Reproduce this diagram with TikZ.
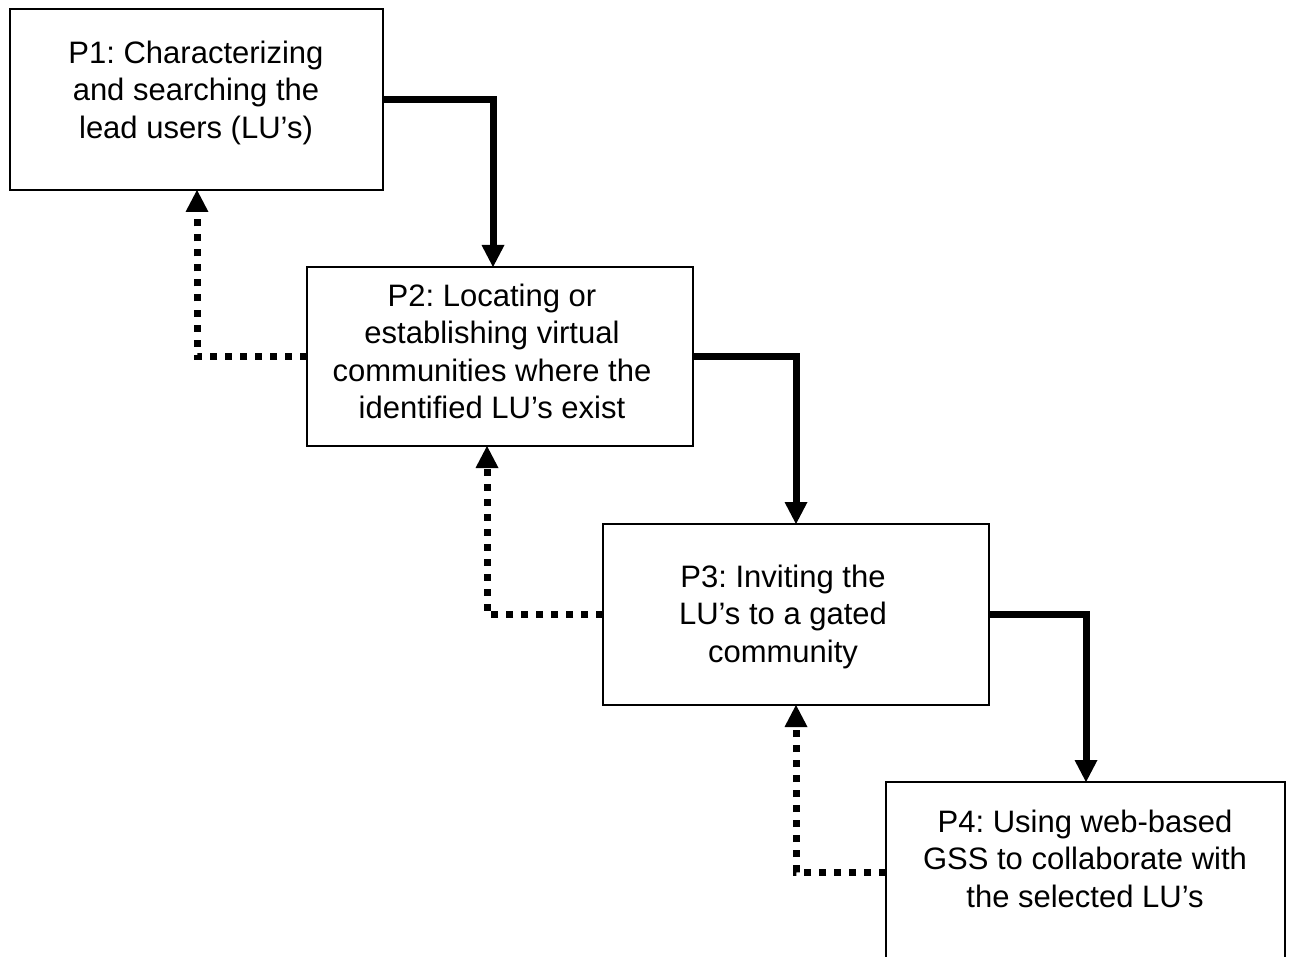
\documentclass[tikz,border=0pt]{standalone}
\usepackage{fontspec}
\setmainfont{Liberation Sans}
\usetikzlibrary{arrows.meta}
\frenchspacing
\begin{document}
\begin{tikzpicture}[x=1pt,y=-1pt,
  box/.style={draw, line width=1.6pt, rectangle, inner sep=0pt, outer sep=0pt},
  txt/.style={anchor=north, align=center, inner sep=0pt, font=\fontsize{31}{37.5}\selectfont\frenchspacing},
  flow/.style={line width=7pt, -{Triangle[width=23pt,length=22pt,line width=0pt]}},
  back/.style={line width=7pt, dash pattern=on 7pt off 8pt, -{Triangle[width=23pt,length=22pt,line width=0pt]}}]
\useasboundingbox (0,0) rectangle (1289,957);
\clip (0,0) rectangle (1289,957);
\fill[white] (0,0) rectangle (1289,957);

% boxes
\node[box, minimum width=373pt, minimum height=181pt] (P1) at (196.5,99.5) {};
\node[box, minimum width=386pt, minimum height=179pt] (P2) at (500,356.5) {};
\node[box, minimum width=386pt, minimum height=181pt] (P3) at (796,614.5) {};
\node[box, minimum width=399pt, minimum height=180pt] (P4) at (1085.5,872) {};

% texts
\node[txt] (T1) at (196,36.75) {\strut P1: Characterizing\\and searching the\\lead users (LU’s)};
\node[txt] (T2) at (492,279.75) {\strut P2: Locating or\\establishing virtual\\communities where the\\identified LU’s exist};
\node[txt] (T3) at (783,560.75) {\strut P3: Inviting the\\LU’s to a gated\\community};
\node[txt] (T4) at (1085,805.75) {\strut P4: Using web-based\\GSS to collaborate with\\the selected LU’s};

% bend coordinates
\coordinate (c1) at (493,0);
\coordinate (c2) at (796,0);
\coordinate (c3) at (1086,0);
\coordinate (d1) at (197,0);
\coordinate (d2) at (487,0);
\coordinate (d3) at (796,0);

% forward (solid) connectors
\draw[flow] (P1.east) -| (c1 |- P2.north);
\draw[flow] (P2.east) -| (c2 |- P3.north);
\draw[flow] (P3.east) -| (c3 |- P4.north);

% feedback (dotted) connectors
\draw[back] (P2.west) -| (d1 |- P1.south);
\draw[back] (P3.west) -| (d2 |- P2.south);
\draw[back] (P4.west) -| (d3 |- P3.south);
\end{tikzpicture}
\end{document}
